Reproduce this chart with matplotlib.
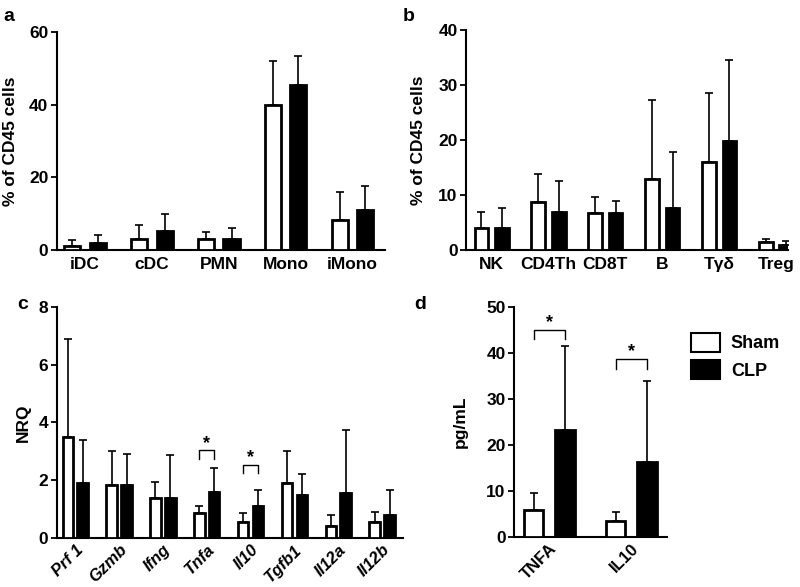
import numpy as np
import matplotlib
matplotlib.use('Agg')
import matplotlib.pyplot as plt
from matplotlib.patches import Patch

plt.rcParams['font.family'] = ['Liberation Sans', 'DejaVu Sans']
plt.rcParams['font.weight'] = 'bold'

# panel a
cellsA = ['iDC', 'cDC', 'PMN', 'Mono', 'iMono']
shamA = [1.0, 3.0, 3.0, 40.0, 8.3]
shamA_top = [2.7, 6.8, 5.0, 52.0, 16.0]
clpA = [2.0, 5.3, 3.0, 45.5, 11.0]
clpA_top = [4.2, 10.0, 6.0, 53.5, 17.5]

# panel b
cellsB = ['NK', 'CD4Th', 'CD8T', 'B', 'Tγδ', 'Treg']
shamB = [4.0, 8.8, 6.8, 13.0, 16.0, 1.4]
shamB_top = [7.0, 13.8, 9.6, 27.2, 28.6, 2.0]
clpB = [4.0, 7.0, 6.8, 7.6, 19.8, 1.0]
clpB_top = [7.7, 12.5, 9.0, 17.8, 34.5, 1.7]

# panel c
genesC = ['Prf 1', 'Gzmb', 'Ifng', 'Tnfa', 'Il10', 'Tgfb1', 'Il12a', 'Il12b']
shamC = [3.5, 1.85, 1.4, 0.85, 0.57, 1.9, 0.4, 0.57]
shamC_top = [6.9, 3.0, 1.95, 1.1, 0.88, 3.0, 0.8, 0.9]
clpC = [1.9, 1.83, 1.4, 1.6, 1.1, 1.5, 1.55, 0.8]
clpC_top = [3.4, 2.9, 2.88, 2.43, 1.65, 2.22, 3.75, 1.67]
sigC = [(3, 3.04, 2.75), (4, 2.54, 2.25)]  # group, bracket top, leg end

# panel d
cytoD = ['TNFA', 'IL10']
shamD = [5.8, 3.6]
shamD_top = [9.6, 5.4]
clpD = [23.3, 16.3]
clpD_top = [41.5, 33.9]
sigD = [(0, 45.1, 43.0), (1, 38.8, 36.6)]

fig = plt.figure(figsize=(8, 5.87), dpi=100)


def panel(rect, labels, sham, sham_top, clp, clp_top, ylim, yticks, ylabel,
          xlim, lab_x, off=0.19, w=0.24, rot=0, italic=False, sig=None, sig_off=0):
    ax = fig.add_axes(rect)
    x = np.arange(len(labels))
    sham = np.array(sham); clp = np.array(clp)
    ax.bar(x - off, sham, w, color='white', edgecolor='black', linewidth=2, zorder=3)
    ax.bar(x + off, clp, w, color='black', edgecolor='black', linewidth=2, zorder=3)
    ax.errorbar(x - off, sham, yerr=[np.zeros(len(x)), np.array(sham_top) - sham],
                fmt='none', ecolor='black', elinewidth=1.2, capsize=3, capthick=1.2, zorder=2)
    ax.errorbar(x + off, clp, yerr=[np.zeros(len(x)), np.array(clp_top) - clp],
                fmt='none', ecolor='black', elinewidth=1.2, capsize=3, capthick=1.2, zorder=2)
    ax.set_xlim(*xlim)
    ax.set_ylim(*ylim)
    ax.set_yticks(yticks)
    ax.set_xticks(x)
    if rot:
        ax.set_xticklabels(labels, rotation=rot, ha='right', rotation_mode='anchor',
                           style='italic' if italic else 'normal', fontsize=12)
        ax.tick_params(axis='x', length=0, pad=3)
    else:
        ax.set_xticklabels(labels)
        ax.tick_params(axis='x', length=0, labelsize=12.5, pad=5)
    ax.tick_params(axis='y', length=4, width=1.3, labelsize=12.5, pad=2)
    for s in ['top', 'right']:
        ax.spines[s].set_visible(False)
    for s in ['left', 'bottom']:
        ax.spines[s].set_linewidth(1.5)
    ax.set_ylabel(ylabel, fontsize=12.5, fontweight='bold')
    ax.yaxis.set_label_coords(lab_x, 0.5)
    if sig:
        for g, top, leg in sig:
            xl, xr = g - off, g + off
            ax.plot([xl, xl, xr, xr], [leg, top, top, leg], color='black', lw=1, zorder=4)
            ax.text(g, top + sig_off, '*', ha='center', va='bottom', fontsize=13)
    return ax


panel([0.071, 0.574, 0.41, 0.3715], cellsA, shamA, shamA_top, clpA, clpA_top,
      (0, 60), [0, 20, 40, 60], '% of CD45 cells', (-0.42, 4.48), -0.118)
panel([0.5825, 0.574, 0.4025, 0.375], cellsB, shamB, shamB_top, clpB, clpB_top,
      (0, 40), [0, 10, 20, 30, 40], '% of CD45 cells', (-0.45, 5.21), -0.125,
      off=0.18)
panel([0.071, 0.0835, 0.433, 0.3935], genesC, shamC, shamC_top, clpC, clpC_top,
      (0, 8), [0, 2, 4, 6, 8], 'NRQ', (-0.42, 7.48), -0.075,
      off=0.17, rot=45, italic=True, sig=sigC, sig_off=-0.05)
panel([0.6425, 0.085, 0.1915, 0.392], cytoD, shamD, shamD_top, clpD, clpD_top,
      (0, 50), [0, 10, 20, 30, 40, 50], 'pg/mL', (-0.43, 1.44), -0.30,
      rot=45, sig=sigD, sig_off=-0.3)

handles = [Patch(facecolor='white', edgecolor='black', linewidth=1.5, label='Sham'),
           Patch(facecolor='black', edgecolor='black', linewidth=1.5, label='CLP')]
fig.legend(handles=handles, loc='upper left', bbox_to_anchor=(0.855, 0.445),
           frameon=False, fontsize=13, handlelength=1.6, handleheight=1.2,
           handletextpad=0.6, labelspacing=0.45, borderaxespad=0)

for lab, fx, fy in [('a', 0.004, 0.972), ('b', 0.503, 0.972), ('c', 0.022, 0.482), ('d', 0.518, 0.482)]:
    fig.text(fx, fy, lab, fontsize=14, fontweight='bold', ha='left', va='center')

fig.savefig('out.png', dpi=100, facecolor='white')
